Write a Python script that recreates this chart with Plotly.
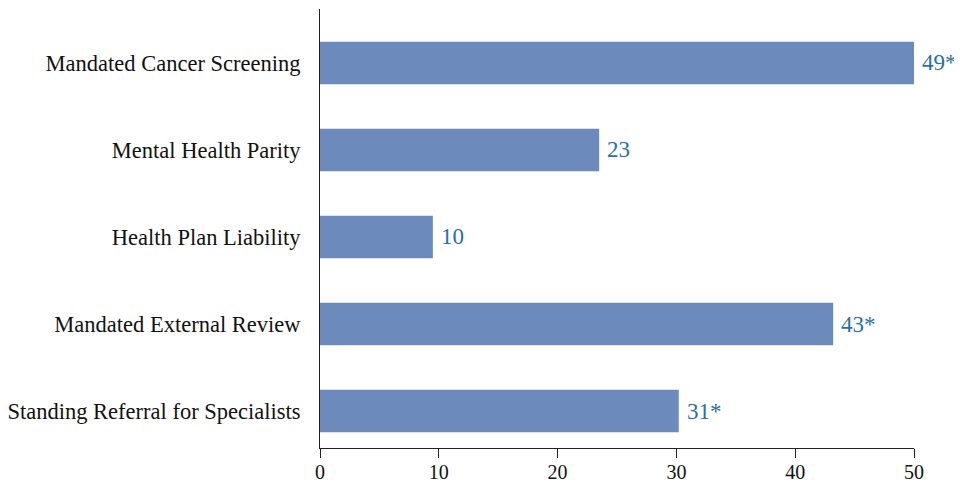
import plotly.graph_objects as go

categories = ["Mandated Cancer Screening", "Mental Health Parity", "Health Plan Liability",
              "Mandated External Review", "Standing Referral for Specialists"]
values = [50.0, 23.5, 9.5, 43.2, 30.2]
labels = ["49*", "23", "10", "43*", "31*"]
tick_vals = [0, 10, 20, 30, 40, 50]

FONT = "Liberation Serif"

fig = go.Figure(go.Bar(
    y=categories, x=values, orientation="h",
    marker=dict(color="#6d8abd", line=dict(width=0)),
    width=0.49,
    cliponaxis=False,
))

for c, v, l in zip(categories, values, labels):
    fig.add_annotation(x=v, y=c, text=l, showarrow=False, xanchor="left", yanchor="middle",
                       xshift=6, font=dict(family=FONT, size=23, color="#2a6fa8"))

fig.update_layout(
    width=954, height=475,
    margin=dict(l=312, r=48, t=1, b=35, autoexpand=False),
    plot_bgcolor="white", paper_bgcolor="white",
    showlegend=False,
    font=dict(family=FONT, size=19, color="#111111"),
    xaxis=dict(range=[0, 50], tickvals=tick_vals, showgrid=False, zeroline=False,
               showline=True, linecolor="#222222", linewidth=1, automargin=False,
               ticks="outside", ticklen=9, tickcolor="#222222", ticklabelstandoff=-3,
               tickfont=dict(family=FONT, size=20, color="#111111")),
    yaxis=dict(categoryorder="array", categoryarray=categories,
               range=[4.425, -0.62], showgrid=False, zeroline=False,
               showline=True, linecolor="#222222", linewidth=1, automargin=False,
               ticks="", ticklabelstandoff=14,
               tickfont=dict(family=FONT, size=22.5, color="#111111")),
)

fig.write_html("out.html")
